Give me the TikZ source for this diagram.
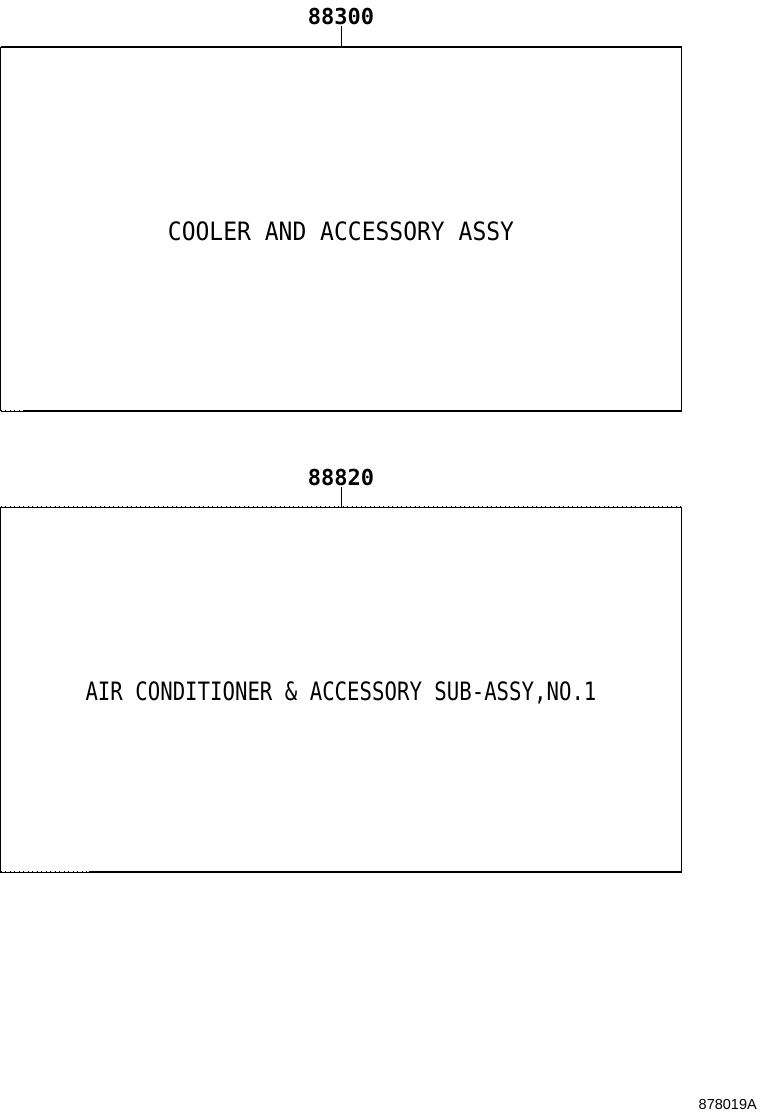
\documentclass[tikz,border=0pt]{standalone}
\usepackage{fontspec}
\setmainfont{DejaVu Sans Mono}
\newfontfamily\refsans{Liberation Sans}
\begin{document}
\begin{tikzpicture}[x=1pt,y=-1pt,
  partbox/.style={draw=none,minimum width=681pt,minimum height=364pt,inner sep=0pt,outer sep=0pt},
  boxtext/.style={font=\fontsize{23}{23}\selectfont,yscale=1.1},
  partno/.style={font=\fontsize{22}{22}\selectfont\bfseries,inner sep=1pt},
  solidedge/.style={line width=1.3pt},
  thinedge/.style={line width=0.6pt},
  tickedge/.style={line width=1.2pt,dash pattern=on 1pt off 3.5pt},
  leader/.style={line width=0.7pt}]
\useasboundingbox (0,0) rectangle (760,1112);
\fill[white] (0,0) rectangle (760,1112);

% box 1
\node[partbox] (b1) at (341,229) {};
\node[boxtext] (t1) at (341,231) {COOLER AND ACCESSORY ASSY};
\node[partno] (l1) at (341,16) {88300};
\coordinate (b1d) at ([xshift=22pt]b1.south west);
\draw[line width=2pt] (b1.north west) -- (b1.north east);
\draw[solidedge] (b1d) -- (b1.south east);
\draw[thinedge] (b1.south west) -- (b1d);
\draw[tickedge] (b1.south west) -- (b1d);
\draw[thinedge] (b1.north west) -- (b1.south west);
\draw[tickedge] (b1.north west) -- (b1.south west);
\draw[thinedge] (b1.north east) -- (b1.south east);
\draw[tickedge] (b1.north east) -- (b1.south east);
\draw[leader] (l1.south -| b1.north) -- (b1.north);

% box 2
\node[partbox,minimum height=365pt] (b2) at (341,689.5) {};
\node[boxtext,xscale=0.9] (t2) at (341,693) {AIR CONDITIONER \& ACCESSORY SUB-ASSY,NO.1};
\node[partno] (l2) at (341,477) {88820};
\coordinate (b2d) at ([xshift=88pt]b2.south west);
\draw[thinedge] (b2.north west) -- (b2.north east);
\draw[tickedge] (b2.north west) -- (b2.north east);
\draw[solidedge] (b2d) -- (b2.south east);
\draw[thinedge] (b2.south west) -- (b2d);
\draw[tickedge] (b2.south west) -- (b2d);
\draw[thinedge] (b2.north west) -- (b2.south west);
\draw[tickedge] (b2.north west) -- (b2.south west);
\draw[thinedge] (b2.north east) -- (b2.south east);
\draw[tickedge] (b2.north east) -- (b2.south east);
\draw[leader] (l2.south -| b2.north) -- (b2.north);

% figure number
\node[font=\refsans\fontsize{14.5}{14.5}\selectfont,anchor=south east,inner sep=0pt] (fig) at (757,1110) {878019A};
\end{tikzpicture}
\end{document}
